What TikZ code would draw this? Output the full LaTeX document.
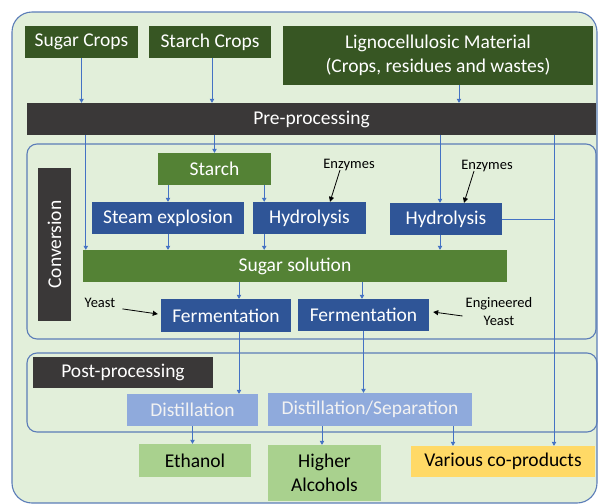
\documentclass[tikz,border=0pt]{standalone}
\usepackage{fontspec}
\setmainfont{Carlito}
\usetikzlibrary{arrows.meta,calc}
\definecolor{dkgreen}{HTML}{375623}
\definecolor{mdgreen}{HTML}{548235}
\definecolor{boxblue}{HTML}{2F5597}
\definecolor{dkgray}{HTML}{3A3838}
\definecolor{ltblue}{HTML}{8FAADC}
\definecolor{ltgreen}{HTML}{A9D18E}
\definecolor{yel}{HTML}{FFD966}
\definecolor{bg}{HTML}{E2EFDA}
\definecolor{lineblue}{HTML}{4472C4}
\definecolor{frameblue}{HTML}{5B7DB8}
\begin{document}
\begin{tikzpicture}[x=1pt,y=-1pt,
  box/.style={inner sep=0pt, align=center, font=\fontsize{19.5}{23.5}\selectfont, text=white},
  wh/.style 2 args={minimum width=#1 pt, minimum height=#2 pt},
  lbl/.style={inner sep=0pt, align=center, font=\fontsize{14.5}{18}\selectfont, text=black},
  arr/.style={draw=lineblue, line width=0.8pt, -{Triangle[width=4.5pt,length=4pt]}},
  plain/.style={draw=lineblue, line width=0.8pt},
  karr/.style={draw=black, line width=0.8pt, -{Triangle[width=5pt,length=5pt]}},
  frame/.style={draw=frameblue, line width=1.1pt, rounded corners=10pt}
]
\useasboundingbox (0,0) rectangle (598,504);
% outer background
\draw[frame, fill=bg, rounded corners=20pt] (12,12) rectangle (597,503);
% inner frames
\draw[frame] (27,144) rectangle (596,339);
\draw[frame] (27,353) rectangle (597,432);

% sources
\node[box, fill=dkgreen, wh={113}{32}] (sugar) at (81.5,42) {Sugar Crops};
\node[box, fill=dkgreen, wh={122}{32}] (starchcrops) at (210,42) {Starch Crops};
\node[box, fill=dkgreen, wh={310}{59}] (ligno) at (438,55.5) {Lignocellulosic Material\\(Crops, residues and wastes)};
\node[box, fill=dkgray, wh={569}{32}] (pre) at (311.5,119) {Pre-processing};

% conversion
\node[box, fill=dkgray, wh={153}{33}, rotate=90] (convlbl) at (54.5,244.5) {Conversion};
\node[box, fill=mdgreen, wh={113}{32}] (starch) at (214.5,169) {Starch};
\node[box, fill=boxblue, wh={152}{32}] (steam) at (168,218) {Steam explosion};
\node[box, fill=boxblue, wh={113}{32}] (hyd1) at (309.5,218) {Hydrolysis};
\node[box, fill=boxblue, wh={112}{32}] (hyd2) at (446,219) {Hydrolysis};
\node[box, fill=mdgreen, wh={424}{32}] (sugarsol) at (295,266) {Sugar solution};
\node[box, fill=boxblue, wh={130}{33}] (ferm1) at (226,315.5) {Fermentation};
\node[box, fill=boxblue, wh={131}{32}] (ferm2) at (363.5,315) {Fermentation};
\node[lbl] (enz1) at (349,165) {Enzymes};
\node[lbl] (enz2) at (487,166) {Enzymes};
\node[lbl] (yeast) at (100,303) {Yeast};
\node[lbl] (eng) at (499,312) {Engineered\\Yeast};

% post-processing
\node[box, fill=dkgray, wh={180}{31}] (postlbl) at (123,372.5) {Post-processing};
\node[box, fill=ltblue, wh={131}{32}, text=white!95!black] (dist) at (192.5,410) {Distillation};
\node[box, fill=ltblue, wh={204}{33}, text=white!95!black] (distsep) at (370,409.5) {Distillation/Separation};

% products
\node[box, fill=ltgreen, wh={112}{33}, text=black] (ethanol) at (195,460.5) {Ethanol};
\node[box, fill=ltgreen, wh={113}{56}, text=black] (higher) at (324.5,473) {Higher\\Alcohols};
\node[box, fill=yel, wh={184}{31}, text=black] (various) at (503,461.5) {Various co-products};

\coordinate (cp) at ([xshift=51pt]various.north);

% connectors
\draw[arr] (sugar.south) -- (sugar.south |- pre.north);
\draw[arr] ([xshift=2pt]starchcrops.south) -- ([xshift=2pt]starchcrops.south |- pre.north);
\draw[arr] ([xshift=21pt]ligno.south) -- ([xshift=21pt]ligno.south |- pre.north);

\draw[arr] ([xshift=3pt]sugarsol.north west |- pre.south) -- ([xshift=3pt]sugarsol.north west);
\draw[arr] (starch.north |- pre.south) -- (starch.north);
\draw[arr] ([xshift=-6pt]hyd2.north |- pre.south) -- ([xshift=-6pt]hyd2.north);
\draw[arr] (cp |- pre.south) -- (cp);
\draw[plain] (hyd2.east) -- (hyd2.east -| cp);

\draw[arr] (steam.north |- starch.south) -- (steam.north);
\draw[arr] ([xshift=-7pt]starch.south east) -- ([xshift=-7pt]starch.south east |- hyd1.north);
\draw[arr] (steam.south) -- (steam.south |- sugarsol.north);
\draw[arr] ([xshift=-7pt]starch.south east |- hyd1.south) -- ([xshift=-7pt]starch.south east |- sugarsol.north);
\draw[arr] ([xshift=-6pt]hyd2.south) -- ([xshift=-6pt]hyd2.south |- sugarsol.north);

\draw[arr] ([xshift=13pt]ferm1.north |- sugarsol.south) -- ([xshift=13pt]ferm1.north);
\draw[arr] ([xshift=-1.5pt]ferm2.north |- sugarsol.south) -- ([xshift=-1.5pt]ferm2.north);

\draw[arr] ([xshift=13pt]ferm1.south) -- ([xshift=13pt]ferm1.south |- dist.north);
\draw[arr] (ferm2.south) -- (ferm2.south |- distsep.north);

\draw[arr] (dist.south) -- (dist.south |- ethanol.north);
\draw[arr] ([xshift=-2.5pt]higher.north |- distsep.south) -- ([xshift=-2.5pt]higher.north);
\draw[arr] ([xshift=-50pt]various.north |- distsep.south) -- ([xshift=-50pt]various.north);

% label arrows
\draw[karr] ([xshift=-9pt,yshift=1pt]enz1.south) -- ([xshift=20.5pt]hyd1.north);
\draw[karr] ([xshift=-13pt,yshift=1pt]enz2.south) -- ([xshift=18pt]hyd2.north);
\draw[karr] ([xshift=7pt,yshift=-1pt]yeast.south east) -- ([xshift=-3pt,yshift=1.5pt]ferm1.west);
\draw[karr] ([xshift=-3pt,yshift=-4pt]eng.west) -- ([xshift=4pt,yshift=3pt]ferm2.east);
\end{tikzpicture}
\end{document}
